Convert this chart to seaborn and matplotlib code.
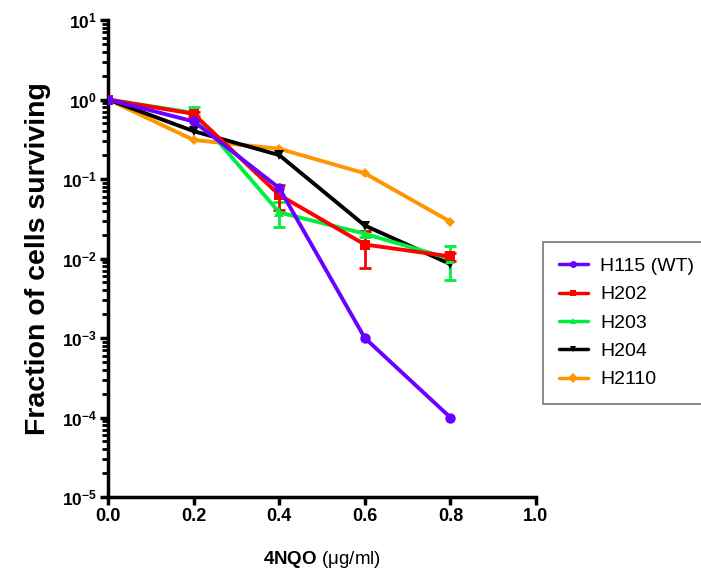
import numpy as np
import pandas as pd
import seaborn as sns
import matplotlib.pyplot as plt
from matplotlib.ticker import LogLocator, FixedLocator, NullFormatter

# 4NQO survival data
dose = [0.0, 0.2, 0.4, 0.6, 0.8]
strains = ["H115 (WT)", "H202", "H203", "H204", "H2110"]
h115 = [1.0, 0.53, 0.077, 0.001, 0.0001]
h202 = [1.0, 0.66, 0.063, 0.015, 0.0106]
h203 = [1.0, 0.68, 0.038, 0.0205, 0.0099]
h204 = [1.0, 0.40, 0.20, 0.026, 0.0085]
h2110 = [1.0, 0.31, 0.24, 0.118, 0.029]
# standard deviations (only the visible ones)
h202_sd = [0.0, 0.04, 0.022, 0.0075, 0.0012]
h203_sd = [0.0, 0.12, 0.013, 0.002, 0.0045]

colors = ["#6a00ff", "#ff0000", "#00ee40", "#000000", "#ff9500"]
markers = ["o", "s", "^", "v", "D"]
msizes = [7.5, 7.5, 7, 7, 5.5]

df = pd.DataFrame({
    "dose": dose * 5,
    "frac": h115 + h202 + h203 + h204 + h2110,
    "strain": np.repeat(strains, len(dose)),
})

sns.set_style("ticks")
plt.rcParams['font.family'] = ['Liberation Sans', 'DejaVu Sans']
plt.rcParams['mathtext.fontset'] = 'custom'
plt.rcParams['mathtext.rm'] = 'Liberation Sans'
plt.rcParams['mathtext.bf'] = 'Liberation Sans:bold'
plt.rcParams['text.color'] = 'black'
plt.rcParams['axes.labelcolor'] = 'black'
plt.rcParams['xtick.color'] = 'black'
plt.rcParams['ytick.color'] = 'black'

fig = plt.figure(figsize=(7.01, 5.71), dpi=100)
ax = fig.add_axes([108 / 701, 1 - 497 / 571, 428 / 701, 477 / 571])

# error bars first so lines sit on top
for sd, vals, c in [(h203_sd, h203, colors[2]), (h202_sd, h202, colors[1])]:
    ax.errorbar(dose, vals, yerr=sd, fmt="none", ecolor=c, elinewidth=2,
                capsize=4.5, capthick=2, zorder=2)

order = [4, 3, 2, 1, 0]
for i in order:
    sub = df[df["strain"] == strains[i]]
    sns.lineplot(data=sub, x="dose", y="frac", ax=ax, color=colors[i],
                 marker=markers[i], markersize=msizes[i], markeredgewidth=0,
                 linewidth=2.8, label=strains[i], zorder=3 + (4 - i))

ax.set_yscale("log")
ax.set_ylim(1e-5, 10)
ax.set_xlim(0, 1.0)
ax.xaxis.set_major_locator(FixedLocator([0.0, 0.2, 0.4, 0.6, 0.8, 1.0]))
ax.set_xticklabels(["0.0", "0.2", "0.4", "0.6", "0.8", "1.0"], fontweight="bold", fontsize=13)
yt = [1e-5, 1e-4, 1e-3, 1e-2, 1e-1, 1, 10]
ax.yaxis.set_major_locator(FixedLocator(yt))
ax.set_yticklabels([r"$\mathbf{10^{%d}}$" % int(np.log10(v)) for v in yt], fontsize=12.5)
ax.yaxis.set_minor_locator(LogLocator(base=10, subs=np.arange(2, 10), numticks=20))
ax.yaxis.set_minor_formatter(NullFormatter())

for s in ["top", "right"]:
    ax.spines[s].set_visible(False)
for s in ["left", "bottom"]:
    ax.spines[s].set_linewidth(2.5)
    ax.spines[s].set_color("black")
ax.tick_params(axis="both", which="major", length=6, width=2.5, color="black",
               labelcolor="black", pad=2)
ax.tick_params(axis="y", which="minor", length=4, width=2, color="black")

ax.set_ylabel("Fraction of cells surviving", fontsize=20.5, fontweight="bold",
              color="black", labelpad=8)
ax.set_xlabel(r"$\mathbf{4NQO}$ (μg/ml)", fontsize=13.5, color="black", labelpad=17)

h, l = ax.get_legend_handles_labels()
idx = [l.index(s) for s in strains]
ax.get_legend().remove()
leg = fig.legend([h[k] for k in idx], strains, loc="upper left",
                 bbox_to_anchor=(543 / 701, 1 - 242 / 571), fontsize=14,
                 frameon=True, fancybox=False, edgecolor="#555555",
                 handlelength=1.5, handletextpad=0.65, borderpad=0.8,
                 labelspacing=0.55, borderaxespad=0)
leg.get_frame().set_linewidth(1.2)
for lh in leg.legend_handles:
    lh.set_markersize(5)
    lh.set_linewidth(2.5)

fig.savefig("out.png", dpi=100)
